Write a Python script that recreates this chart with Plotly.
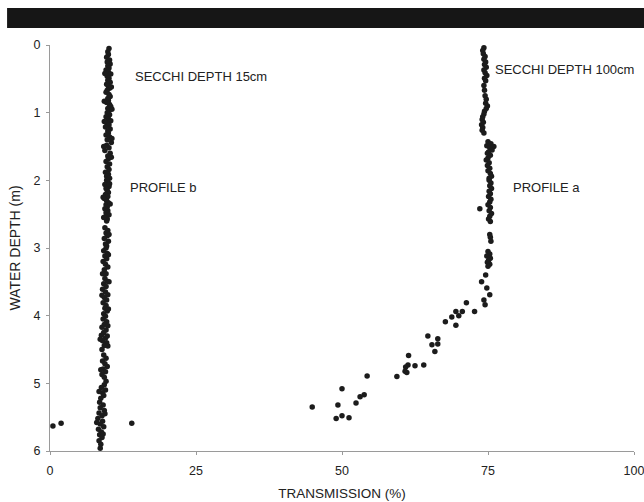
import plotly.graph_objects as go

# ---------------- Profile b (Secchi depth 15 cm) ----------------
b_depth = [
    0.05, 0.10, 0.14, 0.18, 0.22, 0.25, 0.28, 0.31, 0.34, 0.37, 0.40, 0.43, 0.46, 0.49, 0.52,
    0.55, 0.58, 0.61, 0.64, 0.67, 0.70, 0.73, 0.76, 0.79, 0.82, 0.85, 0.88, 0.91, 0.94, 0.97,
    0.42, 0.62, 0.83, 0.95,
    1.00, 1.03, 1.06, 1.09, 1.12, 1.15, 1.18, 1.21, 1.24, 1.27, 1.30, 1.33, 1.36, 1.40, 1.44,
    1.48, 1.52, 1.56, 1.60, 1.64, 1.68, 1.72, 1.76, 1.80, 1.84, 1.88, 1.91, 1.94, 1.97,
    1.13, 1.38, 1.50, 1.66,
    2.00, 2.03, 2.06, 2.09, 2.12, 2.15, 2.18, 2.21, 2.24, 2.27, 2.30, 2.33, 2.36, 2.39, 2.42,
    2.45, 2.48, 2.51, 2.54, 2.57, 2.60, 2.70, 2.74, 2.78, 2.82, 2.86, 2.90, 2.94, 2.97,
    2.05, 2.25, 2.35, 2.55, 2.80,
    3.00, 3.04, 3.08, 3.12, 3.16, 3.20, 3.24, 3.28, 3.32, 3.38, 3.38, 3.45, 3.49, 3.53, 3.57,
    3.61, 3.65, 3.69, 3.73, 3.77, 3.81, 3.85, 3.89, 3.93, 3.97,
    3.10, 3.50, 3.70, 3.90,
    4.01, 4.05, 4.09, 4.13, 4.17, 4.21, 4.25, 4.29, 4.33, 4.37, 4.40, 4.44, 4.50, 4.58, 4.63,
    4.67, 4.71, 4.75, 4.79, 4.83, 4.87, 4.91, 4.97,
    4.15, 4.30, 4.35, 4.45, 4.80,
    5.02, 5.06, 5.10, 5.14, 5.18, 5.22, 5.28, 5.32, 5.36, 5.40, 5.44, 5.48, 5.52, 5.56, 5.60,
    5.64, 5.68, 5.72, 5.76, 5.80, 5.85, 5.90, 5.96,
    5.12, 5.45, 5.58, 5.75,
    5.63, 5.59, 5.59,
]
b_trans = [
    10.1, 9.9, 10.0, 9.7, 10.2, 9.8, 10.3, 9.9, 10.1, 9.6, 10.0, 10.4, 9.8, 10.1, 9.9,
    10.3, 9.7, 10.0, 10.2, 9.8, 9.6, 10.1, 10.3, 9.9, 10.0, 9.7, 10.2, 10.4, 9.9, 10.1,
    9.4, 10.5, 9.3, 10.6,
    9.8, 10.2, 9.6, 10.0, 10.4, 9.7, 10.1, 9.5, 10.3, 9.9, 10.0, 9.6, 10.2, 9.8, 10.5,
    9.7, 10.1, 9.4, 10.3, 9.9, 10.0, 9.6, 10.2, 9.8, 10.1, 9.5, 10.0, 9.7, 10.2,
    9.3, 10.6, 9.2, 10.5,
    9.7, 9.9, 9.4, 10.1, 9.6, 9.8, 10.0, 9.5, 9.9, 9.3, 9.7, 10.0, 9.6, 9.8, 9.4,
    9.9, 9.6, 10.1, 9.5, 9.8, 9.7, 9.4, 9.9, 9.6, 9.8, 9.3, 10.0, 9.5, 9.7,
    10.2, 9.1, 10.3, 9.2, 10.1,
    9.6, 9.2, 9.8, 9.4, 9.7, 9.1, 9.5, 9.9, 9.3, 9.0, 9.6, 9.4, 9.8, 9.2, 9.6,
    9.0, 9.5, 9.9, 9.3, 9.7, 9.1, 9.6, 9.4, 9.8, 9.2,
    10.0, 10.1, 8.9, 10.0,
    9.5, 9.1, 9.7, 9.3, 8.9, 9.6, 9.2, 8.8, 9.5, 9.0, 9.7, 9.3, 8.9, 9.2, 9.6,
    9.0, 9.4, 9.8, 9.1, 9.5, 8.9, 9.3, 9.6,
    9.9, 9.8, 8.6, 9.9, 8.7,
    9.3, 8.8, 9.5, 9.0, 9.2, 8.7, 8.5, 9.1, 8.6, 9.3, 8.4, 8.9, 8.2, 9.0, 8.6,
    9.2, 8.3, 8.8, 8.5, 8.9, 8.4, 8.7, 8.6,
    8.4, 9.4, 8.0, 9.1,
    0.5, 1.9, 14.0,
]

# ---------------- Profile a (Secchi depth 100 cm) ----------------
a_depth = [
    0.04, 0.08, 0.13, 0.17, 0.21, 0.25, 0.29, 0.33, 0.37, 0.41, 0.45, 0.49, 0.53, 0.60, 0.67,
    0.75, 0.80, 0.86, 0.90, 0.94, 0.98, 1.02, 1.06, 1.10, 1.14, 1.18, 1.22, 1.26, 1.30,
    1.43, 1.46, 1.49, 1.50, 1.52, 1.55, 1.58, 1.60, 1.63, 1.67, 1.70, 1.74, 1.78, 1.82, 1.86,
    1.90, 1.94, 1.97,
    2.00, 2.04, 2.08, 2.12, 2.16, 2.20, 2.24, 2.28, 2.32, 2.36, 2.40, 2.42, 2.45, 2.49, 2.53,
    2.57, 2.61, 2.80, 2.84, 2.90,
    3.05, 3.09, 3.12, 3.15, 3.18, 3.21, 3.24, 3.27, 3.40, 3.50, 3.59, 3.69, 3.77, 3.84,
    3.81, 3.94, 3.94, 3.94, 4.00, 4.02, 4.09, 4.14, 4.30, 4.34, 4.43, 4.42, 4.53, 4.59, 4.73,
    4.76, 4.74, 4.73, 4.82, 4.84, 4.90, 4.89, 5.08, 5.17, 5.20, 5.29, 5.32, 5.35, 5.48, 5.52,
    5.51,
]
a_trans = [
    74.3, 74.1, 74.2, 74.5, 74.3, 74.6, 74.4, 74.7, 74.3, 74.5, 74.8, 74.4, 74.6, 74.3, 74.4,
    74.5, 74.7, 74.6, 74.9, 74.7, 74.4, 74.3, 74.1, 74.0, 74.2, 73.9, 74.1, 74.0, 74.3,
    75.0, 75.5, 74.8, 76.0, 75.3, 75.7, 75.1, 74.9, 75.4, 75.0, 74.7, 75.2, 74.9, 75.3, 75.0,
    75.4, 75.6, 75.2,
    75.2, 75.5, 75.3, 75.6, 75.2, 75.4, 75.1, 75.5, 75.3, 75.0, 75.4, 73.6, 75.2, 75.6, 75.3,
    75.1, 75.4, 75.3, 75.4, 75.5,
    75.0, 75.3, 74.8, 75.4, 75.1, 74.9, 75.3, 75.0, 74.6, 73.9, 74.8, 75.3, 74.3, 74.5,
    71.3, 72.7, 70.6, 69.5, 70.0, 68.8, 67.7, 69.5, 64.7, 66.4, 65.4, 66.4, 65.9, 61.4, 61.3,
    60.9, 62.5, 64.0, 60.8, 61.1, 59.4, 54.3, 50.0, 53.8, 53.1, 52.4, 49.3, 44.9, 50.0, 49.0,
    51.2,
]

x_ticks = [0, 25, 50, 75, 100]
y_ticks = [0, 1, 2, 3, 4, 5, 6]

labels = [
    ("SECCHI DEPTH 15cm", 14.2, 0.47),
    ("PROFILE b", 13.3, 2.1),
    ("SECCHI DEPTH 100cm", 75.8, 0.36),
    ("PROFILE a", 79.0, 2.1),
]

FONT = "Liberation Sans, Arial, sans-serif"
INK = "#1c1c1c"
TXT = "#222222"

fig = go.Figure()
for xs, ys in [(b_trans, b_depth), (a_trans, a_depth)]:
    fig.add_trace(go.Scatter(
        x=xs, y=ys, mode="markers",
        marker=dict(size=5.5, color=INK, line=dict(width=0)),
        showlegend=False, hoverinfo="skip", cliponaxis=False,
    ))

for text, x, y in labels:
    fig.add_annotation(x=x, y=y, text=text, showarrow=False, xanchor="left",
                       yanchor="middle", font=dict(size=13, color=TXT, family=FONT))

# black band across the top of the scan
fig.add_shape(type="rect", xref="paper", yref="paper",
              x0=-0.0735, x1=1.05, y0=1.042, y1=1.091,
              fillcolor="#161616", line=dict(width=0), layer="above")

axis_common = dict(
    showgrid=False, zeroline=False, showline=True, linecolor="#9a9a9a", linewidth=1,
    ticks="outside", ticklen=3, tickcolor="#9a9a9a", automargin=False,
    ticklabeloverflow="allow",
    tickfont=dict(size=12.5, color=TXT, family=FONT),
)

fig.update_layout(
    width=644, height=502,
    margin=dict(l=50, r=10, t=45, b=51),
    paper_bgcolor="white", plot_bgcolor="white",
    font=dict(family=FONT, color=TXT),
    xaxis=dict(range=[0, 100], tickvals=x_ticks, ticktext=[str(v) for v in x_ticks],
               ticklabelstandoff=5,
               title=dict(text="TRANSMISSION (%)", font=dict(size=13.5, family=FONT, color=TXT),
                          standoff=11),
               **axis_common),
    yaxis=dict(range=[6, 0], tickvals=y_ticks, ticktext=[str(v) for v in y_ticks],
               ticklabelstandoff=3,
               title=dict(text="WATER DEPTH (m)", font=dict(size=14, family=FONT, color=TXT),
                          standoff=9),
               **axis_common),
)

fig.write_html(
    "out.html",
    config={"displayModeBar": False},
    post_script="document.body.style.margin='0';document.body.style.overflow='hidden';",
)
